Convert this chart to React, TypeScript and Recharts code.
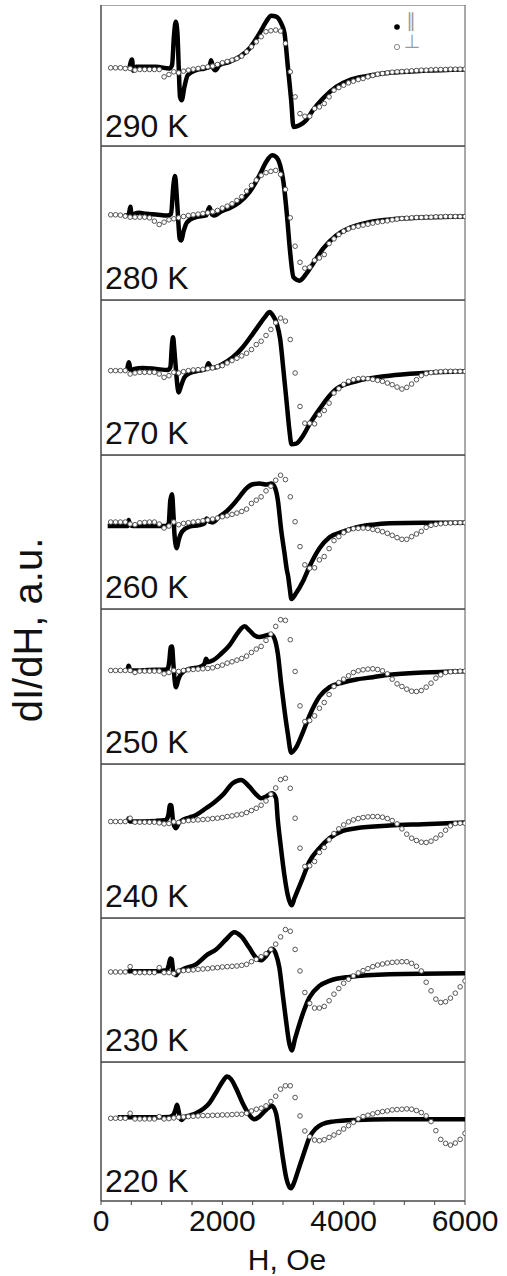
import React from "react";
import {
  ComposedChart,
  Line,
  Scatter,
  XAxis,
  YAxis,
  ReferenceArea,
} from "recharts";

const FONT = "'Liberation Sans', Arial, sans-serif";

// field points of the perpendicular sweep, Oe
const FIELD_PERP = [
  160, 240, 320, 400, 480, 560, 640, 720, 800, 880, 960, 1040, 1120, 1200,
  1280, 1360, 1440, 1520, 1600, 1680, 1760, 1840, 1920, 2000, 2080, 2160,
  2240, 2320, 2400, 2480, 2560, 2640, 2720, 2800, 2880, 2960, 3040, 3120,
  3200, 3280, 3360, 3440, 3520, 3600, 3680, 3760, 3840, 3920, 4000, 4080,
  4160, 4240, 4320, 4400, 4480, 4560, 4640, 4720, 4800, 4880, 4960, 5040,
  5120, 5200, 5280, 5360, 5440, 5520, 5600, 5680, 5760, 5840, 5920, 6000,
];

const X_TICKS = [
  0, 500, 1000, 1500, 2000, 2500, 3000, 3500, 4000, 4500, 5000, 5500, 6000,
];
const X_LABELS = ["0", "2000", "4000", "6000"];

// parallel orientation: [H (Oe), dI/dH (a.u.)]
const PAR_290 = [
  [467, 0], [511, 27], [533, -7], [577, 5], [907, 5], [1127, 0], [1171, 10],
  [1204, 100], [1232, 140], [1260, 105], [1281, 5], [1303, -85], [1331, -95],
  [1375, -55], [1430, -20], [1567, -5], [1705, 0], [1787, 5], [1815, 25],
  [1853, 0], [1886, -5], [1952, 10], [2117, 20], [2282, 35], [2447, 60],
  [2612, 105], [2722, 140], [2805, 158], [2887, 155], [2970, 135], [3025, 105],
  [3080, 5], [3135, -95], [3173, -175], [3272, -170], [3382, -155],
  [3492, -125], [3657, -90], [3877, -55], [4097, -35], [4372, -23],
  [4757, -13], [5307, -7], [6000, -3],
];
const PAR_280 = [
  [385, 0], [456, 2], [484, 26], [506, -3], [550, 5], [632, 8], [742, 5],
  [907, 3], [1100, 0], [1155, 5], [1193, 90], [1221, 118], [1248, 60],
  [1270, -5], [1298, -70], [1320, -75], [1364, -45], [1419, -20], [1567, -5],
  [1732, 0], [1787, 25], [1831, 3], [1870, 0], [1980, 12], [2117, 22],
  [2282, 40], [2447, 70], [2612, 120], [2722, 160], [2821, 180], [2887, 175],
  [2953, 150], [3008, 100], [3063, 5], [3118, -110], [3173, -185],
  [3272, -195], [3382, -175], [3492, -145], [3657, -100], [3877, -60],
  [4097, -37], [4372, -22], [4757, -12], [5307, -6], [6000, -3],
];
const PAR_270 = [
  [429, 0], [462, 25], [489, 0], [550, 5], [687, 8], [907, 5], [1100, 2],
  [1143, 10], [1171, 80], [1188, 100], [1210, 60], [1237, 0], [1259, -45],
  [1281, -65], [1320, -45], [1375, -20], [1457, -8], [1622, 0], [1732, 5],
  [1771, 22], [1815, 8], [1897, 10], [2007, 20], [2172, 40], [2337, 70],
  [2502, 110], [2640, 145], [2722, 165], [2777, 175], [2832, 165],
  [2898, 140], [2953, 95], [3008, 0], [3063, -100], [3107, -180],
  [3140, -220], [3217, -218], [3327, -195], [3437, -160], [3602, -115],
  [3767, -75], [3877, -55], [4207, -32], [4757, -15], [5307, -7], [6000, -2],
];
const PAR_260 = [
  [110, -8], [357, -8], [440, -8], [456, 10], [478, -5], [522, -8], [907, -8],
  [1072, -8], [1116, 0], [1143, 70], [1171, 88], [1193, 30], [1210, -30],
  [1226, -60], [1248, -75], [1281, -50], [1336, -25], [1457, -10],
  [1622, -5], [1705, 0], [1743, 15], [1787, 5], [1842, 3], [1952, 20],
  [2062, 35], [2172, 55], [2282, 80], [2392, 105], [2502, 118], [2612, 120],
  [2722, 117], [2805, 120], [2860, 110], [2915, 70], [2970, -20],
  [3025, -90], [3063, -140], [3085, -160], [3107, -190], [3140, -228],
  [3217, -210], [3327, -175], [3437, -130], [3602, -75], [3767, -42],
  [3987, -25], [4207, -12], [4482, -4], [4757, 0], [5307, 2], [6000, 2],
];
const PAR_250 = [
  [440, 0], [456, 14], [478, 2], [522, 0], [907, 2], [1045, 2], [1100, 5],
  [1127, 30], [1149, 70], [1171, 72], [1193, 20], [1215, -30], [1237, -50],
  [1270, -30], [1320, -10], [1457, 5], [1622, 10], [1705, 20], [1732, 35],
  [1765, 25], [1842, 30], [1980, 50], [2117, 75], [2227, 105], [2310, 125],
  [2365, 132], [2447, 120], [2530, 105], [2612, 100], [2722, 105],
  [2805, 108], [2860, 95], [2915, 50], [2970, -40], [3025, -120],
  [3080, -190], [3135, -246], [3217, -230], [3327, -185], [3437, -135],
  [3602, -78], [3767, -50], [3987, -36], [4207, -27], [4482, -20],
  [4757, -13], [5307, -6], [6000, -2],
];
const PAR_240 = [
  [440, 0], [456, 10], [478, 0], [907, 2], [1072, 5], [1111, 20], [1138, 50],
  [1160, 48], [1182, 10], [1210, -15], [1237, -20], [1281, -5], [1347, 5],
  [1457, 12], [1567, 20], [1731, 40], [1870, 58], [2006, 80], [2171, 115],
  [2308, 125], [2445, 105], [2555, 82], [2638, 70], [2720, 75], [2819, 85],
  [2885, 70], [2912, 10], [2967, -80], [3022, -160], [3077, -220],
  [3143, -252], [3190, -230], [3325, -170], [3435, -120], [3600, -80],
  [3765, -50], [3985, -28], [4205, -20], [4755, -12], [5305, -8], [6000, -3],
];
const PAR_230 = [
  [440, 0], [467, 2], [907, 2], [1083, 5], [1116, 20], [1143, 41],
  [1165, 38], [1188, 5], [1215, -5], [1237, -10], [1281, 0], [1346, 8],
  [1566, 23], [1758, 53], [1896, 68], [2061, 98], [2198, 120], [2308, 108],
  [2445, 73], [2555, 43], [2638, 35], [2720, 48], [2819, 70], [2885, 53],
  [2940, 13], [2995, -67], [3050, -147], [3105, -217], [3143, -237],
  [3201, -200], [3325, -127], [3435, -77], [3600, -42], [3765, -27],
  [4095, -15], [4755, -7], [6000, -4],
];
const PAR_220 = [
  [275, 3], [467, 3], [577, 3], [907, 3], [1127, 4], [1193, 10], [1226, 25],
  [1254, 40], [1281, 20], [1303, 0], [1325, -5], [1375, 3], [1457, 8],
  [1566, 15], [1786, 45], [1923, 85], [2006, 110], [2077, 125], [2143, 117],
  [2225, 90], [2335, 45], [2445, 10], [2528, -3], [2610, 5], [2720, 25],
  [2819, 37], [2885, 15], [2940, -45], [2995, -115], [3050, -175],
  [3105, -205], [3132, -209], [3187, -190], [3242, -160], [3325, -115],
  [3380, -85], [3434, -58], [3544, -30], [3654, -17], [3819, -10],
  [4204, -5], [4753, -3], [6000, -3],
];

// perpendicular orientation, one value per FIELD_PERP point
const PERP_290 = [
  2, 2, 2, 0, 0, -5, -3, -3, -3, -3, -3, -25, -18, -10, -13, -8, -5, -2, 0, 3,
  5, 7, 12, 17, 21, 25, 30, 37, 50, 65, 80, 95, 110, 113, 115, 112, 75, -10,
  -85, -135, -143, -143, -120, -115, -105, -85, -65, -57, -50, -43, -38, -33,
  -30, -25, -21, -17, -15, -13, -11, -10, -9, -8, -7, -6, -5, -5, -4, -3, -3,
  -3, -2, -2, -2, -2,
];
const PERP_280 = [
  2, 2, 1, -2, -5, -5, -5, -5, -7, -17, -27, -20, -13, -10, -7, -3, 0, 2, 4, 6,
  8, 11, 15, 22, 28, 35, 45, 56, 73, 90, 106, 120, 128, 132, 135, 123, 78, -7,
  -92, -140, -158, -155, -134, -127, -117, -84, -70, -57, -47, -40, -35, -32,
  -29, -26, -23, -20, -18, -16, -13, -11, -9, -8, -7, -6, -6, -5, -5, -4, -4,
  -3, -3, -3, -3, -3,
];
const PERP_270 = [
  0, 0, 0, 0, -10, -7, -5, -5, -5, -5, -10, -20, -15, -5, -7, -3, 0, 2, 3, 4,
  6, 8, 12, 15, 23, 30, 37, 44, 52, 63, 78, 88, 105, 123, 143, 157, 148, 93,
  -7, -107, -157, -157, -159, -132, -119, -97, -67, -54, -41, -32, -27, -24,
  -23, -24, -26, -29, -32, -37, -42, -49, -55, -50, -40, -27, -15, -9, -6, -4,
  -3, -2, -2, -2, -2, -2,
];
const PERP_260 = [
  4, 4, 4, 4, -2, -4, 2, 3, 4, 4, -2, -14, -8, 4, -4, 0, 2, 4, 6, 8, 10, 13,
  16, 20, 23, 27, 31, 36, 43, 60, 70, 80, 98, 112, 130, 145, 132, 80, 5, -70,
  -125, -135, -134, -110, -100, -76, -52, -40, -28, -20, -16, -15, -14, -15,
  -18, -21, -25, -30, -36, -43, -48, -48, -40, -32, -24, -12, -6, -3, -1, 0,
  1, 2, 2, 2,
];
const PERP_250 = [
  0, 0, 0, 0, 0, -6, -2, -2, -2, -2, -2, -10, -6, 0, -3, 0, 2, 3, 4, 5, 6, 8,
  12, 16, 22, 26, 31, 36, 43, 54, 64, 72, 90, 109, 132, 152, 150, 92, -3,
  -106, -153, -150, -136, -113, -96, -72, -48, -36, -26, -16, -6, -1, 2, 4, 5,
  3, -1, -10, -26, -40, -48, -56, -62, -63, -60, -50, -38, -23, -13, -6, -4,
  -3, -2, -2,
];
const PERP_240 = [
  0, 0, 0, 0, 10, -2, -2, -2, -2, -2, -4, -7, -6, -1, -3, 1, 3, 4, 5, 6, 7, 9,
  10, 12, 15, 17, 20, 22, 27, 33, 40, 49, 62, 82, 101, 126, 130, 100, 10, -80,
  -135, -133, -120, -93, -78, -55, -36, -22, -10, -1, 5, 9, 12, 14, 15, 15,
  13, 9, 3, -7, -22, -38, -50, -57, -62, -63, -59, -50, -40, -26, -13, -6, -5,
  -5,
];
const PERP_230 = [
  0, 0, 0, 0, 16, -2, -2, -2, -2, -2, 13, -2, -2, -5, 3, 4, 5, 6, 8, 9, 10,
  12, 13, 15, 16, 17, 18, 20, 23, 31, 38, 46, 55, 68, 84, 106, 128, 123, 68,
  3, -62, -95, -109, -109, -104, -87, -67, -50, -34, -22, -12, -3, 4, 10, 16,
  21, 24, 27, 29, 30, 31, 31, 26, 17, 3, -31, -57, -82, -92, -90, -79, -64,
  -45, -27,
];
const PERP_220 = [
  0, 0, 0, 0, 15, -2, -2, -2, -2, -2, 5, -2, -1, 1, 3, 4, 5, 6, 7, 8, 8, 9, 9,
  10, 10, 11, 12, 12, 15, 22, 27, 30, 37, 50, 66, 87, 97, 97, 62, 7, -38, -55,
  -65, -67, -64, -57, -50, -42, -32, -22, -12, -2, 5, 9, 13, 17, 20, 22, 25,
  26, 27, 28, 27, 23, 17, 7, -10, -37, -63, -75, -80, -74, -63, -45,
];

const PANELS = [
  { label: "290 K", par: PAR_290, perp: PERP_290, domain: [-232, 190] },
  { label: "280 K", par: PAR_280, perp: PERP_280, domain: [-253, 208] },
  { label: "270 K", par: PAR_270, perp: PERP_270, domain: [-252, 211] },
  { label: "260 K", par: PAR_260, perp: PERP_260, domain: [-258, 206] },
  { label: "250 K", par: PAR_250, perp: PERP_250, domain: [-280, 184] },
  { label: "240 K", par: PAR_240, perp: PERP_240, domain: [-290, 173] },
  { label: "230 K", par: PAR_230, perp: PERP_230, domain: [-272, 163] },
  { label: "220 K", par: PAR_220, perp: PERP_220, domain: [-247, 168] },
];

// frame layout (px)
const PANEL_TOPS = [5, 146, 300, 455, 609, 764, 918, 1062];
const PLOT_BOTTOM = 1201;
const PLOT_LEFT = 101;
const PLOT_RIGHT = 465;
const WIDTH = 507;
const HEIGHT = 1276;

function minorTicks([lo, hi]: number[]) {
  const out: number[] = [];
  for (let v = lo; v <= hi; v += 24) out.push(v);
  return out;
}

function OpenCircle(props: any) {
  const { cx, cy } = props;
  if (cx == null || cy == null) return null;
  return (
    <circle cx={cx} cy={cy} r={2.3} fill="#fff" stroke="#555" strokeWidth={1} />
  );
}

function Panel({ index }: { index: number }) {
  const panel = PANELS[index];
  const last = index === PANELS.length - 1;
  const top = PANEL_TOPS[index];
  const bottom = last ? PLOT_BOTTOM : PANEL_TOPS[index + 1];
  const plotH = bottom - top;
  const axisH = last ? 75 : 6;
  const [lo, hi] = panel.domain;

  const parData = panel.par.map(([h, v]) => ({ h, v }));
  const perpData = FIELD_PERP.map((h, i) => ({ h, v: panel.perp[i] }));

  return (
    <div style={{ position: "absolute", left: 0, top }}>
      <ComposedChart
        width={WIDTH}
        height={plotH + axisH}
        margin={{ top: 0, right: WIDTH - PLOT_RIGHT, bottom: 0, left: 0 }}
      >
        <XAxis
          dataKey="h"
          type="number"
          domain={[0, 6000]}
          ticks={X_TICKS}
          interval={0}
          allowDataOverflow
          height={axisH}
          stroke="#444"
          tickSize={4}
          tickMargin={5}
          tick={
            last
              ? { fontSize: 30, fill: "#111", fontFamily: FONT }
              : false
          }
          tickFormatter={(v: number) =>
            X_LABELS.includes(String(v)) ? String(v) : ""
          }
        />
        <YAxis
          dataKey="v"
          type="number"
          domain={[lo, hi]}
          ticks={minorTicks(panel.domain)}
          interval={0}
          allowDataOverflow
          width={PLOT_LEFT}
          stroke="#444"
          tickSize={5}
          tick={false}
        />
        <ReferenceArea
          x1={0}
          x2={6000}
          y1={lo}
          y2={hi}
          fill="none"
          stroke="#555"
          strokeWidth={1}
        />
        <Line
          data={parData}
          dataKey="v"
          type="monotone"
          stroke="#000"
          strokeWidth={4.5}
          strokeLinejoin="round"
          dot={false}
          isAnimationActive={false}
        />
        <Scatter
          data={perpData}
          dataKey="v"
          shape={OpenCircle}
          isAnimationActive={false}
        />
      </ComposedChart>
    </div>
  );
}

export default function App() {
  return (
    <div
      style={{
        position: "absolute",
        left: 0,
        top: 0,
        width: WIDTH,
        height: HEIGHT,
        background: "#fff",
        overflow: "hidden",
      }}
    >
      {PANELS.map((_, i) => (
        <Panel key={i} index={i} />
      ))}
      <svg
        width={WIDTH}
        height={HEIGHT}
        style={{ position: "absolute", left: 0, top: 0, pointerEvents: "none" }}
      >
        {PANELS.map((p, i) => {
          const bottom = i === PANELS.length - 1 ? PLOT_BOTTOM : PANEL_TOPS[i + 1];
          const lift = i === 0 || i === PANELS.length - 1 ? 9 : 11;
          return (
            <text
              key={p.label}
              x={105}
              y={bottom - lift}
              fontSize={32}
              fontFamily={FONT}
              fill="#111"
            >
              {p.label}
            </text>
          );
        })}

        {/* orientation key */}
        <circle cx={397} cy={27} r={2.8} fill="#000" />
        <text x={411} y={27} fontSize={19} fontFamily="DejaVu Sans" fill="#9a9a9a" textAnchor="middle">
          ∥
        </text>
        <circle cx={397} cy={47} r={2.6} fill="#fff" stroke="#888" strokeWidth={1} />
        <text x={412} y={48} fontSize={19} fontFamily="DejaVu Sans" fill="#9a9a9a" textAnchor="middle">
          ⊥
        </text>

        <text
          x={(PLOT_LEFT + PLOT_RIGHT) / 2 + 4}
          y={1270}
          fontSize={30}
          fontFamily={FONT}
          fill="#111"
          textAnchor="middle"
        >
          H, Oe
        </text>
        <text
          x={0}
          y={0}
          transform="translate(42 630) rotate(-90)"
          fontSize={40}
          fontFamily={FONT}
          fill="#111"
          textAnchor="middle"
        >
          dI/dH, a.u.
        </text>
      </svg>
    </div>
  );
}
